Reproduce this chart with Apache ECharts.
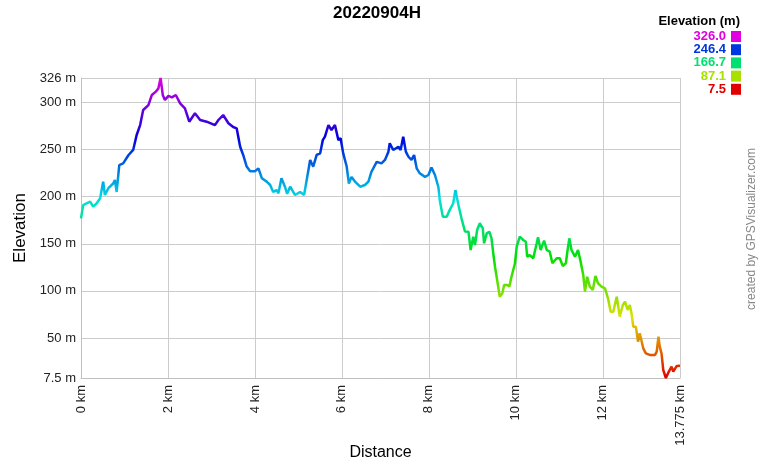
<!DOCTYPE html>
<html>
<head>
<meta charset="utf-8">
<script src="https://cdn.jsdelivr.net/npm/echarts@6/dist/echarts.min.js"></script>
<style>
html,body{margin:0;padding:0;background:#fff;}
#chart{width:760px;height:460px;}
</style>
</head>
<body>
<div id="chart"></div>
<script>
const distances = [0.00,0.05,0.13,0.21,0.28,0.36,0.44,0.51,0.55,0.63,0.74,0.78,0.82,0.88,0.97,1.09,1.20,1.28,1.36,1.43,1.55,1.63,1.72,1.78,1.83,1.88,1.93,2.01,2.09,2.18,2.28,2.39,2.49,2.62,2.74,2.89,3.08,3.16,3.27,3.39,3.50,3.58,3.66,3.73,3.81,3.89,4.00,4.08,4.16,4.27,4.35,4.42,4.50,4.54,4.61,4.69,4.74,4.81,4.92,5.04,5.13,5.19,5.27,5.34,5.42,5.50,5.56,5.61,5.69,5.76,5.84,5.92,5.97,6.03,6.11,6.16,6.22,6.30,6.42,6.53,6.61,6.68,6.80,6.91,6.99,7.07,7.10,7.18,7.30,7.35,7.41,7.47,7.53,7.60,7.66,7.72,7.79,7.91,7.99,8.06,8.14,8.22,8.25,8.32,8.41,8.48,8.56,8.61,8.68,8.75,8.83,8.91,8.96,9.02,9.06,9.11,9.17,9.24,9.27,9.33,9.39,9.44,9.48,9.52,9.57,9.63,9.69,9.73,9.80,9.85,9.90,9.98,10.02,10.09,10.17,10.23,10.26,10.32,10.40,10.48,10.51,10.57,10.65,10.71,10.78,10.84,10.94,11.01,11.08,11.15,11.19,11.23,11.28,11.36,11.43,11.49,11.55,11.59,11.64,11.70,11.77,11.83,11.89,11.97,12.05,12.12,12.18,12.24,12.32,12.35,12.39,12.46,12.51,12.57,12.62,12.66,12.70,12.76,12.81,12.85,12.89,12.93,12.99,13.08,13.20,13.24,13.28,13.31,13.35,13.39,13.45,13.50,13.58,13.62,13.70,13.775];
const elevations = [177,191,193,194.7,189.4,193,198.3,216,201.8,209,214,217.7,205,233.6,235.4,244,249.6,265.5,276,292,297.3,308,311.5,315,326,308,302.6,307,305.5,308,299,293.8,279.6,288.5,281.4,279.6,276,281.4,286.7,278,274,272.6,253,244.3,232,227,227,230,219.5,216,212.4,205,207,203.6,219.5,210.6,203,210.6,201.8,205,201.8,217.7,239,231.8,244.3,246,260,263.7,276,270.8,276,260,262,246,232,214,221,216,210.6,212.4,216,226.5,237,235.4,239,247.8,256.7,249.6,253,249.6,263.7,247.8,242.4,239,244.3,230,224.8,221,223,231,223,210,196.5,178.8,178.8,186,193,207,191.2,177,163,162.8,143.4,157.5,148.7,164.6,171.8,166.4,150.5,161,162.8,156,140,125.7,111.6,93.8,97.4,106.3,106.3,104.5,115,129.3,147,157.5,154,152.2,136.3,138,134.6,150.5,156.9,143.4,153.3,143.4,141.6,129.3,134.6,134.6,126.4,129.3,143.4,155.8,143.4,136.3,143.4,131,116.9,99.2,115,104.5,101,115.8,108,104.5,102.7,92,77.9,77.9,93.8,94.6,72.6,85,88.5,79.7,85,76.2,62,62,46.1,55,56.7,39,33.7,32,32,35.5,51.4,40.8,33.7,16,7.5,12.6,19.6,14.3,20.3,20.6];

const titleText = '20220904H';
const legendTitle = 'Elevation (m)';
const legendLabels = ['326.0','246.4','166.7','87.1','7.5'];
const legendColors = ['#e000e0','#0038e0','#00e070','#a8e000','#e00000'];
const hueColors = ['#e00000','#e07000','#e0e000','#70e000','#00e000','#00e070','#00e0e0','#0070e0','#0000e0','#7000e0','#e000e0'];
const yMin = 7.5, yMax = 326, xMax = 13.775;

const chart = echarts.init(document.getElementById('chart'), null, {renderer:'canvas'});
const FONT = '"Liberation Sans", Arial, sans-serif';

const graphics = [];
graphics.push({type:'text', x:377, y:13.5, style:{text:titleText, font:'bold 17px ' + FONT, fill:'#000', align:'center', verticalAlign:'middle'}});
graphics.push({type:'text', x:740, y:21, style:{text:legendTitle, font:'bold 13px ' + FONT, fill:'#000', align:'right', verticalAlign:'middle'}});
legendLabels.forEach((t,i)=>{
  const cy = 36.5 + i*13.2;
  graphics.push({type:'text', x:726, y:cy, style:{text:t, font:'bold 13px ' + FONT, fill:legendColors[i], align:'right', verticalAlign:'middle'}});
  graphics.push({type:'rect', shape:{x:731, y:cy-5.5, width:10, height:11}, style:{fill:legendColors[i]}});
});
graphics.push({type:'text', x:752, y:229, rotation:Math.PI/2, style:{text:'created by GPSVisualizer.com', font:'12px ' + FONT, fill:'#888', align:'center', verticalAlign:'middle'}});

chart.setOption({
  animation:false,
  backgroundColor:'#fff',
  grid:{left:81, right:80, top:78, bottom:82, containLabel:false, outerBoundsMode:'none'},
  graphic:graphics,
  visualMap:{show:false, type:'continuous', dimension:1, min:yMin, max:yMax, inRange:{color:hueColors}},
  xAxis:{
    type:'value', min:0, max:xMax, splitNumber:7,
    name:'Distance', nameLocation:'middle', nameGap:67, nameMoveOverlap:false,
    nameTextStyle:{fontFamily:FONT, fontSize:16, color:'#000'},
    axisLine:{show:true, lineStyle:{color:'#c0c0c0', width:1}},
    axisTick:{show:false},
    axisLabel:{rotate:90, margin:7, fontFamily:FONT, fontSize:13, color:'#222', showMinLabel:true, showMaxLabel:true, formatter:v=>v+' km'},
    splitLine:{show:true, lineStyle:{color:'#cccccc', width:1}}
  },
  yAxis:{
    type:'value', min:yMin, max:yMax, splitNumber:6,
    name:'Elevation', nameLocation:'middle', nameGap:52, nameMoveOverlap:false,
    nameTextStyle:{fontFamily:FONT, fontSize:17, color:'#000'},
    axisLine:{show:true, lineStyle:{color:'#c0c0c0', width:1}},
    axisTick:{show:false},
    axisLabel:{margin:5, fontFamily:FONT, fontSize:13, color:'#222', showMinLabel:true, showMaxLabel:true, formatter:v=>v+' m'},
    splitLine:{show:true, lineStyle:{color:'#cccccc', width:1}}
  },
  series:[{
    type:'line', showSymbol:false, smooth:false,
    lineStyle:{width:2.5},
    data:distances.map((d,i)=>[d, elevations[i]])
  }]
});
</script>
</body>
</html>
